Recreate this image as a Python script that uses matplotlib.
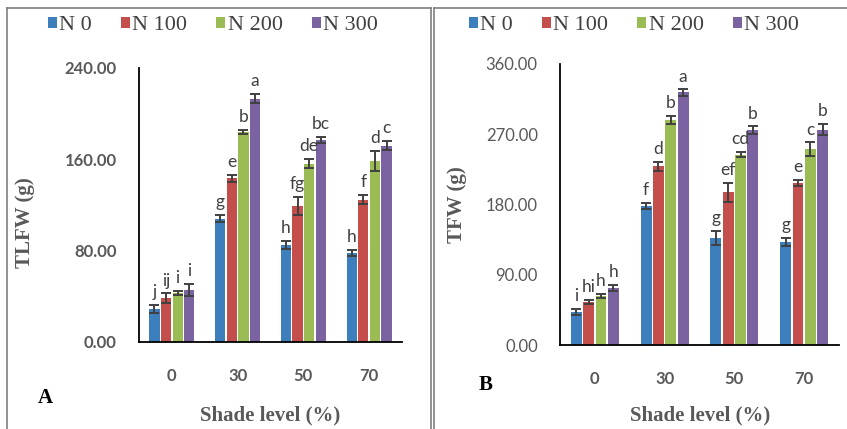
import numpy as np
import matplotlib.pyplot as plt
from matplotlib.lines import Line2D

shade = ['0', '30', '50', '70']
series = ['N 0', 'N 100', 'N 200', 'N 300']
colors = ['#3d7fbd', '#c44e4c', '#9bbb55', '#7b62a0']

# TLFW (g): rows = N level, columns = shade level
tlfw = [[29, 108, 85, 78],
        [38.5, 143.5, 119, 124.5],
        [43, 184, 156, 158.5],
        [45.5, 213, 177, 172]]
tlfw_err = [[3.5, 3, 3.5, 3],
            [4, 3, 8, 4],
            [2, 2, 4, 9],
            [5, 4, 3, 4]]
tlfw_sig = [['j', 'g', 'h', 'h'],
            ['ij', 'e', 'fg', 'f'],
            ['i', 'b', 'de', 'd'],
            ['i', 'a', 'bc', 'c']]

# TFW (g)
tfw = [[42.5, 178.5, 137.5, 132],
       [55, 229, 195.5, 208],
       [63, 288, 244, 250.5],
       [73, 323.5, 275, 276]]
tfw_err = [[4, 4, 9, 5],
           [3, 6, 12, 4],
           [2.5, 5.5, 3, 9],
           [4, 4, 5, 7]]
tfw_sig = [['i', 'f', 'g', 'g'],
           ['hi', 'd', 'ef', 'e'],
           ['h', 'b', 'cd', 'c'],
           ['h', 'a', 'b', 'b']]

W, H = 847, 429
fig = plt.figure(figsize=(W / 100, H / 100), dpi=100)
grey = '#595959'
serif = 'Liberation Serif'
sans = 'Lato'


def px_axes(x0, y0, x1, y1):
    return fig.add_axes([x0 / W, 1 - y1 / H, (x1 - x0) / W, (y1 - y0) / H])


def panel(ax, vals, errs, sigs, ymax, step, ylabel, tick_weight, tag, tag_xy,
          xlab_x, leg_x):
    x = np.arange(len(shade))
    for i in range(4):
        pos = x + (i - 1.5) * 0.177
        ax.bar(pos, vals[i], 0.155, color=colors[i], label=series[i],
               yerr=errs[i], capsize=3.5,
               error_kw=dict(ecolor='#404040', elinewidth=1.4, capthick=1.4))
        for p, v, e, s in zip(pos, vals[i], errs[i], sigs[i]):
            ax.annotate(s, (p, v + e), xytext=(0, 3.5), textcoords='offset points',
                        ha='center', va='bottom', fontsize=12.5, color='#404040',
                        family=sans)
    ax.set_xlim(-0.5, 3.5)
    ax.set_ylim(0, ymax)
    ax.set_yticks(np.arange(0, ymax + 1, step))
    ax.set_yticklabels(['%.2f' % t for t in np.arange(0, ymax + 1, step)])
    ax.set_xticks(x)
    ax.set_xticklabels(shade)
    ax.tick_params(axis='y', length=0, pad=16, labelsize=12, labelcolor=grey)
    ax.tick_params(axis='x', length=0, pad=19, labelsize=12, labelcolor=grey)
    for t in ax.get_yticklabels():
        t.set_family(sans)
        t.set_weight(tick_weight)
    for t in ax.get_xticklabels():
        t.set_family(sans)
        t.set_weight('bold')
    for s in ['top', 'right']:
        ax.spines[s].set_visible(False)
    ax.spines['left'].set_linewidth(1.3)
    ax.spines['bottom'].set_linewidth(1.3)
    ax.set_facecolor('none')

    fig.text(ylabel[1] / W, 1 - ylabel[2] / H, ylabel[0], rotation=90,
             ha='center', va='center', family=serif, weight='bold',
             fontsize=15, color=grey)
    fig.text(xlab_x / W, 1 - 415 / H, 'Shade level (%)', ha='center',
             va='center', family=serif, weight='bold', fontsize=15, color=grey)
    fig.text(tag_xy[0] / W, 1 - tag_xy[1] / H, tag, ha='center', va='center',
             family=serif, weight='bold', fontsize=15, color='black')
    ax.legend(loc='center', bbox_to_anchor=(leg_x / W, 1 - 26 / H),
              bbox_transform=fig.transFigure, ncol=4, frameon=False,
              handlelength=0.4, handleheight=0.4, handletextpad=0.12,
              columnspacing=1.3,
              prop=dict(family=serif, size=16), labelcolor='#404040')


ax_a = px_axes(139, 68, 402, 342)
panel(ax_a, tlfw, tlfw_err, tlfw_sig, 240, 80, ('TLFW (g)', 25, 223), 'bold',
      'A', (45, 398), 270, 213)

ax_b = px_axes(560, 64, 839, 345)
panel(ax_b, tfw, tfw_err, tfw_sig, 360, 90, ('TFW (g)', 457, 205), 'normal',
      'B', (486, 385), 700, 634)

# panel frames
frame = '#7f7f7f'
for xs, ys in [((7, 7), (8, H)), ((7, 431), (8, 8)), ((431, 431), (8, H)),
               ((434, 434), (7.5, H)), ((434, W), (7.5, 7.5))]:
    fig.add_artist(Line2D([xs[0] / W, xs[1] / W], [1 - ys[0] / H, 1 - ys[1] / H],
                          transform=fig.transFigure, color=frame, lw=1.2))

fig.savefig('out.png', dpi=100)
